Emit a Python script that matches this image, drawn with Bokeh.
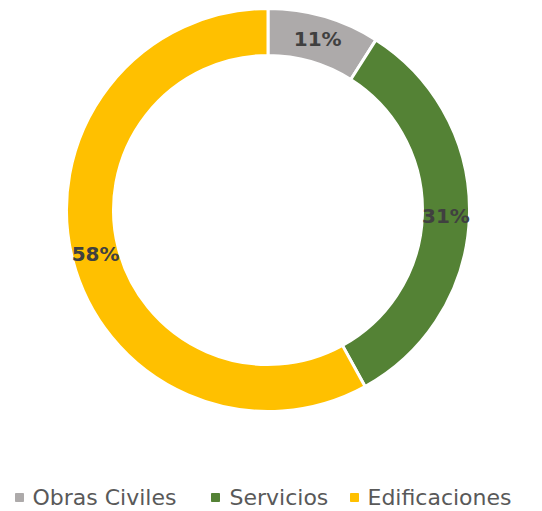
import math
from bokeh.plotting import figure
from bokeh.models import Range1d, ColumnDataSource
from bokeh.core.properties import value
from bokeh.embed import file_html
from bokeh.resources import INLINE

categories = ["Obras Civiles", "Servicios", "Edificaciones"]
values = [9, 33, 58]          # slice sizes as drawn
colors = ["#ADAAAA", "#548235", "#FFC000"]
labels = ["11%", "31%", "58%"]  # data labels as printed

W, H = 542, 511
p = figure(width=W, height=H, output_backend="svg", toolbar_location=None,
           x_range=Range1d(0, W), y_range=Range1d(0, H), min_border=0)
p.axis.visible = False
p.grid.visible = False
p.outline_line_color = None
p.background_fill_color = "white"

cx, cy = 267.5, 301.5
r_out, r_in = 201.5, 154.5
total = sum(values)
starts, ends, lx, ly = [], [], [], []
acc = 0.0
for v in values:
    a0 = math.pi / 2 - 2 * math.pi * acc / total
    a1 = math.pi / 2 - 2 * math.pi * (acc + v) / total
    starts.append(a0)
    ends.append(a1)
    mid = (a0 + a1) / 2
    rm = (r_out + r_in) / 2
    lx.append(cx + rm * math.cos(mid))
    ly.append(cy + rm * math.sin(mid))
    acc += v

src = ColumnDataSource(dict(start=starts, end=ends, color=colors, lx=lx, ly=ly, label=labels))
p.annular_wedge(x=cx, y=cy, inner_radius=r_in, outer_radius=r_out,
                start_angle="start", end_angle="end", direction="clock",
                fill_color="color", line_color="white", line_width=3, source=src)
p.text(x="lx", y="ly", text="label", source=src, text_align="center", text_baseline="middle",
       text_font=value("DejaVu Sans"), text_font_style="bold", text_font_size="20px",
       text_color="#404040")

# legend
leg_y = 14
sq_x = [19, 215, 354]
tx_x = [32, 229, 367]
p.scatter(x=sq_x, y=[leg_y] * 3, marker="square", size=8, color=colors)
p.text(x=tx_x, y=[leg_y] * 3, text=categories, text_align="left", text_baseline="middle",
       text_font=value("DejaVu Sans"), text_font_size="22px", text_color="#595959")

open("out.html", "w").write(file_html(p, INLINE))
